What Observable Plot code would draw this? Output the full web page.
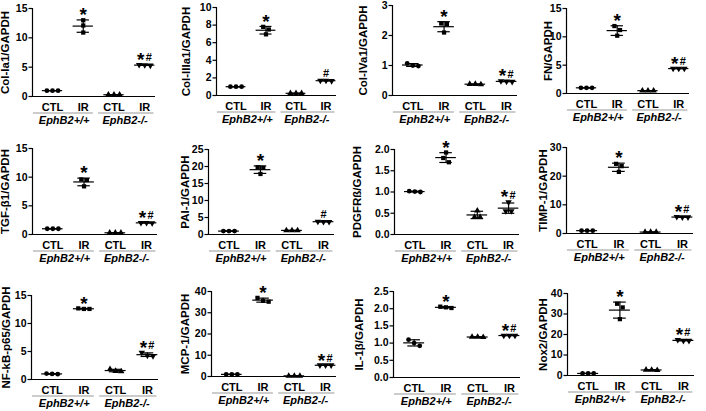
<!DOCTYPE html>
<html><head><meta charset="utf-8">
<script src="https://cdn.jsdelivr.net/npm/d3@7"></script>
<script src="https://cdn.jsdelivr.net/npm/@observablehq/plot@0.6"></script>
<style>
html,body{margin:0;padding:0;background:#fff;}
#fig{position:relative;width:706px;height:411px;overflow:hidden;background:#fff;}
#fig svg{position:absolute;}
</style></head><body><div id="fig"></div>
<script>
// ---------------- data ----------------
const categories = ["CTL", "IR", "CTL", "IR"];
const genotypes = ["EphB2+/+", "EphB2-/-"];
const yTitles = ["Col-Ia1/GAPDH", "Col-IIIa1/GAPDH", "Col-IVa1/GAPDH", "FN/GAPDH",
  "TGF-β1/GAPDH", "PAI-1/GAPDH", "PDGFRß/GAPDH", "TIMP-1/GAPDH",
  "NF-kB-p65/GAPDH", "MCP-1/GAPDH", "IL-1β/GAPDH", "Nox2/GAPDH"];
const yMaxes = [15, 10, 3, 15, 15, 25, 2, 30, 15, 40, 2.5, 40];
const yTicks = [
  [0, 5, 10, 15], [0, 2, 4, 6, 8, 10], [0, 1, 2, 3], [0, 5, 10, 15],
  [0, 5, 10, 15], [0, 5, 10, 15, 20, 25], [0, 0.5, 1, 1.5, 2], [0, 10, 20, 30],
  [0, 5, 10, 15], [0, 10, 20, 30, 40], [0, 0.5, 1, 1.5, 2, 2.5], [0, 10, 20, 30, 40]];
const tickDecimals = [0, 0, 0, 0, 0, 0, 1, 0, 0, 0, 1, 0];

// values per group: [CTL +/+, IR +/+, CTL -/-, IR -/-], three animals each
const colIa1   = [[1.0, 1.0, 1.0], [13.0, 12.1, 10.9], [0.3, 0.3, 0.3], [5.3, 5.35, 5.4]];
const colIIIa1 = [[1.0, 1.0, 1.0], [7.8, 7.5, 6.95], [0.25, 0.25, 0.25], [1.65, 1.7, 1.7]];
const colIVa1  = [[1.07, 1.0, 0.98], [2.4, 2.38, 2.1], [0.37, 0.38, 0.38], [0.46, 0.47, 0.48]];
const fn       = [[1.0, 1.0, 1.0], [11.9, 11.2, 10.2], [0.5, 0.5, 0.5], [4.4, 4.4, 4.4]];
const tgfb1    = [[1.0, 1.0, 1.0], [9.6, 9.5, 8.4], [0.3, 0.3, 0.3], [2.0, 2.05, 2.05]];
const pai1     = [[1.0, 1.0, 1.0], [19.8, 19.6, 17.8], [1.2, 1.2, 1.2], [3.75, 3.75, 3.8]];
const pdgfrb   = [[1.02, 1.01, 1.0], [1.93, 1.8, 1.7], [0.56, 0.41, 0.41], [0.76, 0.55, 0.55]];
const timp1    = [[1.0, 1.0, 1.0], [24.3, 23.5, 21.5], [0.5, 0.5, 0.5], [5.7, 5.7, 5.8]];
const nfkb     = [[1.0, 1.05, 0.95], [12.6, 12.6, 12.7], [1.85, 1.5, 1.45], [4.8, 4.3, 4.2]];
const mcp1     = [[1.0, 1.0, 1.0], [37.0, 35.6, 35.2], [0.3, 0.3, 0.3], [5.3, 5.3, 5.3]];
const il1b     = [[1.1, 1.0, 0.92], [2.02, 2.06, 2.04], [1.18, 1.18, 1.17], [1.22, 1.22, 1.22]];
const nox2     = [[1.0, 1.0, 1.0], [35.0, 33.2, 27.5], [2.6, 2.8, 2.7], [17.4, 17.0, 17.0]];
const panelValues = [colIa1, colIIIa1, colIVa1, fn, tgfb1, pai1, pdgfrb, timp1, nfkb, mcp1, il1b, nox2];

const significance = [
  ["", "*", "", "*#"], ["", "*", "", "#"], ["", "*", "", "*#"], ["", "*", "", "*#"],
  ["", "*", "", "*#"], ["", "*", "", "#"], ["", "*", "", "*#"], ["", "*", "", "*#"],
  ["", "*", "", "*#"], ["", "*", "", "*#"], ["", "*", "", "*#"], ["", "*", "", "*#"]];

// ---------------- layout (pixels) ----------------
// [axis x, x-axis end, y of max, y of zero, y-title offset]
const layout = [
  [32, 155, 8, 96, 27], [216, 336, 7, 95, 30], [392, 517, 5, 95, 29], [566, 689, 8, 93, 18],
  [32, 157, 148, 234, 27], [208, 334, 149, 234, 23], [394, 519, 149, 234, 37], [566, 693, 147, 233, 23],
  [31, 158, 295, 379, 25], [211, 336, 291, 376, 26], [393, 520, 291, 377, 34], [567, 694, 293, 375, 24]];

const FONT = "'Liberation Sans', Arial, Helvetica, sans-serif";
const sqrt3 = Math.sqrt(3);
const triangleDown = {
  draw(context, size) {
    const y = -Math.sqrt(size / (sqrt3 * 3));
    context.moveTo(0, -y * 2);
    context.lineTo(-sqrt3 * y, y);
    context.lineTo(sqrt3 * y, y);
    context.closePath();
  }
};
const symbols = ["circle", "square", "triangle", triangleDown];
const xDom = [0.35, 4.35];
const groupSpans = [{x1: 0.38, x2: 2.33, cx: 1.38, label: genotypes[0]}, {x1: 2.5, x2: 4.3, cx: 3.36, label: genotypes[1]}];

const fig = document.getElementById("fig");

panelValues.forEach((values, i) => {
  const [ax, xe, yt, yb, tOff] = layout[i];
  const W = xe - ax, H = yb - yt;
  const mL = 50, mR = 8, mT = 16, mB = 34;
  const ymax = yMaxes[i];
  const ux = W / (xDom[1] - xDom[0]);
  const uy = H / ymax;
  const pts = [], stats = [], stars = [], hashes = [];
  values.forEach((vals, g) => {
    const gx = g + 1;
    const mean = d3.mean(vals), sd = d3.deviation(vals);
    const top = Math.max(mean + sd, d3.max(vals));
    stats.push({gx, mean, lo: mean - sd, hi: mean + sd});
    const sig = significance[i][g];
    const both = sig.includes("*") && sig.includes("#");
    if (sig.includes("*")) stars.push({x: gx - (both ? 4 / ux : 0), y: top});
    if (sig.includes("#")) hashes.push({x: gx + (both ? 4 / ux : 0), y: top});
    const sorted = vals.map(v => v).sort((a, b) => b - a);
    const clusters = [];
    sorted.forEach(v => {
      const c = clusters[clusters.length - 1];
      if (c && (c[c.length - 1] - v) * uy < 4.5) c.push(v); else clusters.push([v]);
    });
    clusters.forEach(c => c.forEach((v, j) => pts.push({g, x: gx + (j - (c.length - 1) / 2) * 5.6 / ux, y: v})));
  });
  const fmt = d3.format("." + tickDecimals[i] + "f");
  const svg = Plot.plot({
    width: W + mL + mR, height: H + mT + mB,
    marginLeft: mL, marginRight: mR, marginTop: mT, marginBottom: mB,
    x: {domain: xDom, axis: null},
    y: {domain: [0, ymax]},
    style: `background:transparent;overflow:visible;font-family:${FONT};font-weight:bold;color:black;`,
    marks: [
      Plot.axisY({ticks: yTicks[i], tickSize: 3.5, tickPadding: 1.5, tickFormat: fmt, fontSize: 10.5, fontWeight: "bold", label: null, strokeWidth: 1.2}),
      Plot.ruleX([xDom[0]], {y1: 0, y2: ymax, strokeWidth: 1.2}),
      Plot.ruleY([0], {strokeWidth: 1.2}),
      Plot.ruleX(stats, {x: "gx", y1: "lo", y2: "hi", strokeWidth: 1.2}),
      Plot.ruleY(stats, {y: "hi", x1: d => d.gx - 0.2, x2: d => d.gx + 0.2, strokeWidth: 1.2}),
      Plot.ruleY(stats, {y: "lo", x1: d => d.gx - 0.2, x2: d => d.gx + 0.2, strokeWidth: 1.2}),
      Plot.ruleY(stats, {y: "mean", x1: d => d.gx - 0.33, x2: d => d.gx + 0.33, strokeWidth: 1.2}),
      ...symbols.map((s, g) => Plot.dot(pts.filter(p => p.g === g), {x: "x", y: "y", r: 2.4, symbol: s, fill: "black", stroke: "none"})),
      Plot.text(stars, {x: "x", y: "y", text: () => "*", fontSize: 19, fontWeight: "bold", dy: -4.8}),
      Plot.text(hashes, {x: "x", y: "y", text: () => "#", fontSize: 11, fontWeight: "bold", dy: -7}),
      Plot.text(categories.map((c, k) => ({c, x: k + 1})), {x: "x", y: 0, text: "c", dy: 11, fontSize: 11, fontWeight: "bold"}),
      Plot.ruleY(groupSpans, {y: 0, x1: "x1", x2: "x2", dy: 16.5, stroke: "#999", strokeWidth: 1}),
      Plot.text(groupSpans, {x: "cx", y: 0, text: "label", dy: 24, fontSize: 11, fontWeight: "bold", fontStyle: "italic"}),
      Plot.text([yTitles[i]], {frameAnchor: "left", textAnchor: "middle", lineAnchor: "middle", text: d => d, rotate: -90, dx: -tOff, fontSize: 11.5, fontWeight: "bold"})
    ]
  });
  svg.style.position = "absolute";
  svg.style.left = (ax - mL) + "px";
  svg.style.top = (yt - mT) + "px";
  svg.style.maxWidth = "none";
  fig.appendChild(svg);
});
</script></body></html>
